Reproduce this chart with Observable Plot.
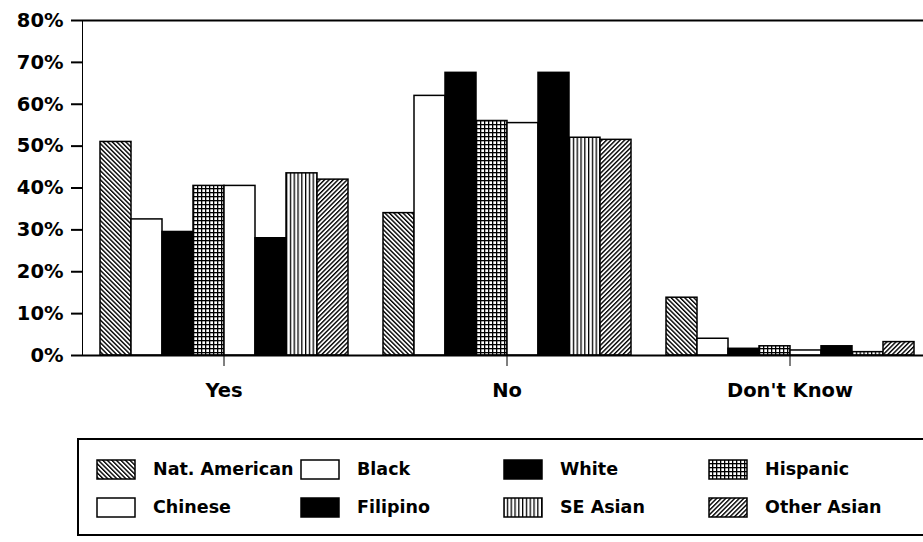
<!DOCTYPE html>
<html><head><meta charset="utf-8">
<script src="https://cdn.jsdelivr.net/npm/d3@7"></script>
<script src="https://cdn.jsdelivr.net/npm/@observablehq/plot@0.6"></script>
<style>
html,body{margin:0;padding:0;background:#fff;overflow:hidden;width:923px;height:542px;}
#wrap{position:relative;width:923px;height:542px;overflow:hidden;}
#chart{position:absolute;left:0;top:0;}
#chart [aria-label^="y-axis"] path, #chart [aria-label^="y-axis"] line{stroke-width:2;}
#legendBox{position:absolute;left:77px;top:438px;width:900px;height:94px;border:2px solid #000;border-right:none;}
.item{position:absolute;height:22px;display:flex;align-items:center;font:bold 17.5px "DejaVu Sans",sans-serif;color:#000;white-space:nowrap;}
.item svg{flex:none;margin-right:17px;}
</style>
</head><body>
<svg width="0" height="0" style="position:absolute">
  <defs>
    <pattern id="pBack" patternUnits="userSpaceOnUse" width="3.2" height="3.2" patternTransform="rotate(-45)">
      <rect width="3.2" height="3.2" fill="#fff"/><rect width="1.4" height="3.2" fill="#000"/>
    </pattern>
    <pattern id="pFwd" patternUnits="userSpaceOnUse" width="3.2" height="3.2" patternTransform="rotate(45)">
      <rect width="3.2" height="3.2" fill="#fff"/><rect width="1.4" height="3.2" fill="#000"/>
    </pattern>
    <pattern id="pGrid" patternUnits="userSpaceOnUse" width="4" height="4">
      <rect width="4" height="4" fill="#fff"/><rect width="4" height="1.3" fill="#000"/><rect width="1.3" height="4" fill="#000"/>
    </pattern>
    <pattern id="pVert" patternUnits="userSpaceOnUse" width="3.8" height="4">
      <rect width="3.8" height="4" fill="#fff"/><rect width="1.3" height="4" fill="#000"/>
    </pattern>
  </defs>
</svg>
<div id="wrap">
  <div id="chart"></div>
  <div id="legendBox"></div>
</div>
<script>
const groups = ["Yes", "No", "Don't Know"];
const series = ["Nat. American", "Black", "White", "Hispanic", "Chinese", "Filipino", "SE Asian", "Other Asian"];
const yesValues = [51, 32.5, 29.5, 40.5, 40.5, 28, 43.5, 42];
const noValues = [34, 62, 67.5, 56, 55.5, 67.5, 52, 51.5];
const dontKnowValues = [13.8, 4, 1.6, 2.2, 1.2, 2.2, 0.8, 3.2];
const yTicks = [0, 10, 20, 30, 40, 50, 60, 70, 80];
const fills = ["url(#pBack)", "#fff", "#000", "url(#pGrid)", "#fff", "#000", "url(#pVert)", "url(#pFwd)"];

const valuesByGroup = [yesValues, noValues, dontKnowValues];
const data = [];
groups.forEach((g, gi) => series.forEach((s, si) => data.push({group: g, series: s, value: valuesByGroup[gi][si]})));

const chart = Plot.plot({
  width: 931,
  height: 430,
  marginLeft: 81,
  marginRight: 0,
  marginTop: 20,
  marginBottom: 75,
  style: {fontFamily: "'DejaVu Sans', sans-serif", fontWeight: "bold", fontSize: "19.5px", color: "#000", background: "#fff", overflow: "visible", maxWidth: "none"},
  fx: {domain: groups, padding: 0, label: null, axis: "bottom", tickSize: 11, tickPadding: 17},
  x: {domain: series, paddingInner: 0, paddingOuter: 0.45, axis: null},
  y: {domain: [0, 80], ticks: yTicks, tickFormat: d => d + "%", tickSize: 11, tickPadding: 8, label: null, line: true},
  color: {domain: series, range: fills},
  marks: [
    Plot.barY(data, {fx: "group", x: "series", y: "value", fill: "series", stroke: "#000", strokeWidth: 1.5, inset: 0}),
    Plot.ruleY([0], {stroke: "#000", strokeWidth: 2}),
    Plot.ruleY([80], {stroke: "#000", strokeWidth: 2})
  ]
});
document.getElementById("chart").appendChild(chart);

// legend
const swatchX = [96, 300, 503, 708];
const rowY = [458, 496];
const wrap = document.getElementById("wrap");
series.forEach((s, i) => {
  const col = i % 4, row = Math.floor(i / 4);
  const item = document.createElement("div");
  item.className = "item";
  item.style.left = swatchX[col] + "px";
  item.style.top = rowY[row] + "px";
  const ns = "http://www.w3.org/2000/svg";
  const sw = document.createElementNS(ns, "svg");
  sw.setAttribute("width", 40); sw.setAttribute("height", 21);
  const r = document.createElementNS(ns, "rect");
  r.setAttribute("x", 1); r.setAttribute("y", 1); r.setAttribute("width", 38); r.setAttribute("height", 19);
  r.setAttribute("fill", fills[i]); r.setAttribute("stroke", "#000"); r.setAttribute("stroke-width", 1.5);
  sw.appendChild(r);
  item.appendChild(sw);
  const t = document.createElement("span");
  t.textContent = s;
  item.appendChild(t);
  wrap.appendChild(item);
});
</script>
</body></html>
